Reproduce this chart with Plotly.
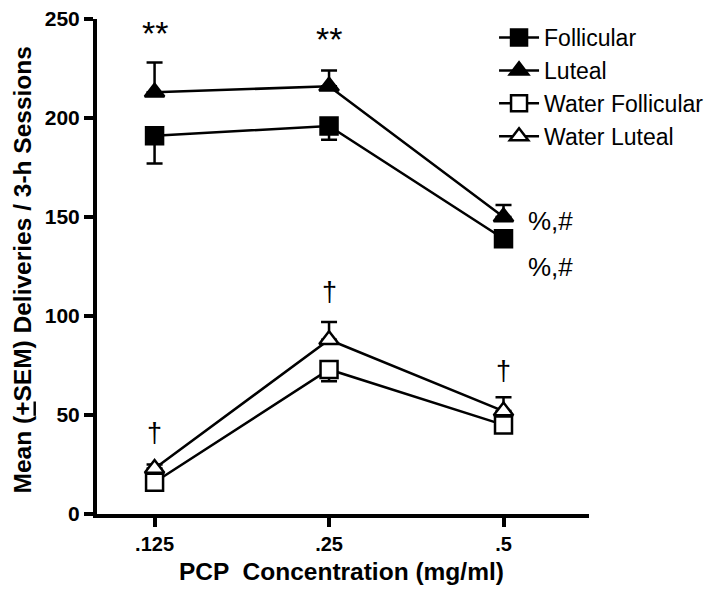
import plotly.graph_objects as go

concentrations = [".125", ".25", ".5"]
follicular = [191, 196, 139]
follicular_sem = [14, 7, 3]
luteal = [213, 216, 150]
luteal_sem = [15, 8, 6]
water_follicular = [16, 73, 45]
water_follicular_sem = [2, 6, 2]
water_luteal = [23, 88, 52]
water_luteal_sem = [2, 9, 7]

FONT = "Liberation Sans, Arial, sans-serif"

fig = go.Figure()

def add(name, y, err, symbol, fill, down):
    eb = dict(type="data", symmetric=False, color="black", thickness=2.5, width=8)
    if down:
        eb["array"] = [0] * len(err)
        eb["arrayminus"] = err
    else:
        eb["array"] = err
        eb["arrayminus"] = [0] * len(err)
    fig.add_trace(go.Scatter(
        x=concentrations, y=y, name=name, mode="lines+markers",
        line=dict(color="black", width=2.5),
        marker=dict(symbol=symbol, size=17, color=fill,
                    line=dict(color="black", width=2.5)),
        error_y=eb,
    ))

add("Follicular", follicular, follicular_sem, "square", "black", True)
add("Luteal", luteal, luteal_sem, "triangle-up", "black", False)
add("Water Follicular", water_follicular, water_follicular_sem, "square", "white", True)
add("Water Luteal", water_luteal, water_luteal_sem, "triangle-up", "white", False)

# annotation positions: category index, value
annots = [
    (0, 243, "**", 34),
    (1, 240, "**", 34),
    (0, 41, "†", 27),
    (1, 112, "†", 27),
    (2, 72, "†", 27),
]
for x, y, t, s in annots:
    fig.add_annotation(x=x, y=y, xref="x", yref="y", text=t, showarrow=False,
                       font=dict(family=FONT, size=s, color="black"))
for y in [148, 125]:
    fig.add_annotation(x=2, y=y, xref="x", yref="y", text="%,#", showarrow=False,
                       xanchor="left", xshift=22,
                       font=dict(family=FONT, size=26, color="black"))

# axis titles
fig.add_annotation(x=-0.1495, y=0.493, xref="paper", yref="paper", showarrow=False,
                   text="Mean (<u>+</u>SEM) Deliveries / 3-h Sessions", textangle=-90,
                   xanchor="center", yanchor="middle", borderpad=0,
                   font=dict(family=FONT, size=24.5, color="black", weight="bold"))
fig.add_annotation(x=0.496, y=-0.117, xref="paper", yref="paper", showarrow=False,
                   text="PCP  Concentration (mg/ml)",
                   xanchor="center", yanchor="middle",
                   font=dict(family=FONT, size=24.5, color="black", weight="bold"))

fig.update_layout(
    width=725, height=596,
    margin=dict(l=89, r=144, t=11, b=90, autoexpand=False),
    paper_bgcolor="white", plot_bgcolor="white",
    font=dict(family=FONT, color="black"),
    showlegend=True,
    legend=dict(x=0.807, y=1.006, xanchor="left", yanchor="top",
                font=dict(family=FONT, size=23, color="black"),
                bgcolor="rgba(0,0,0,0)", itemwidth=40, tracegroupgap=0),
)
fig.update_xaxes(
    type="category", range=[-0.33, 2.49], automargin=False,
    ticklabeloverflow="allow",
    showline=True, linecolor="black", linewidth=4,
    ticks="outside", ticklen=9, tickwidth=4, tickcolor="black",
    showgrid=False, zeroline=False,
    tickfont=dict(family=FONT, size=20, color="black", weight="bold"),
)
fig.update_yaxes(
    range=[0, 250], tickvals=[0, 50, 100, 150, 200, 250], automargin=False,
    ticklabeloverflow="allow",
    showline=True, linecolor="black", linewidth=4,
    ticks="outside", ticklen=9, tickwidth=4, tickcolor="black",
    showgrid=False, zeroline=False,
    tickfont=dict(family=FONT, size=21, color="black", weight="bold"),
)

fig.write_html("out.html")
